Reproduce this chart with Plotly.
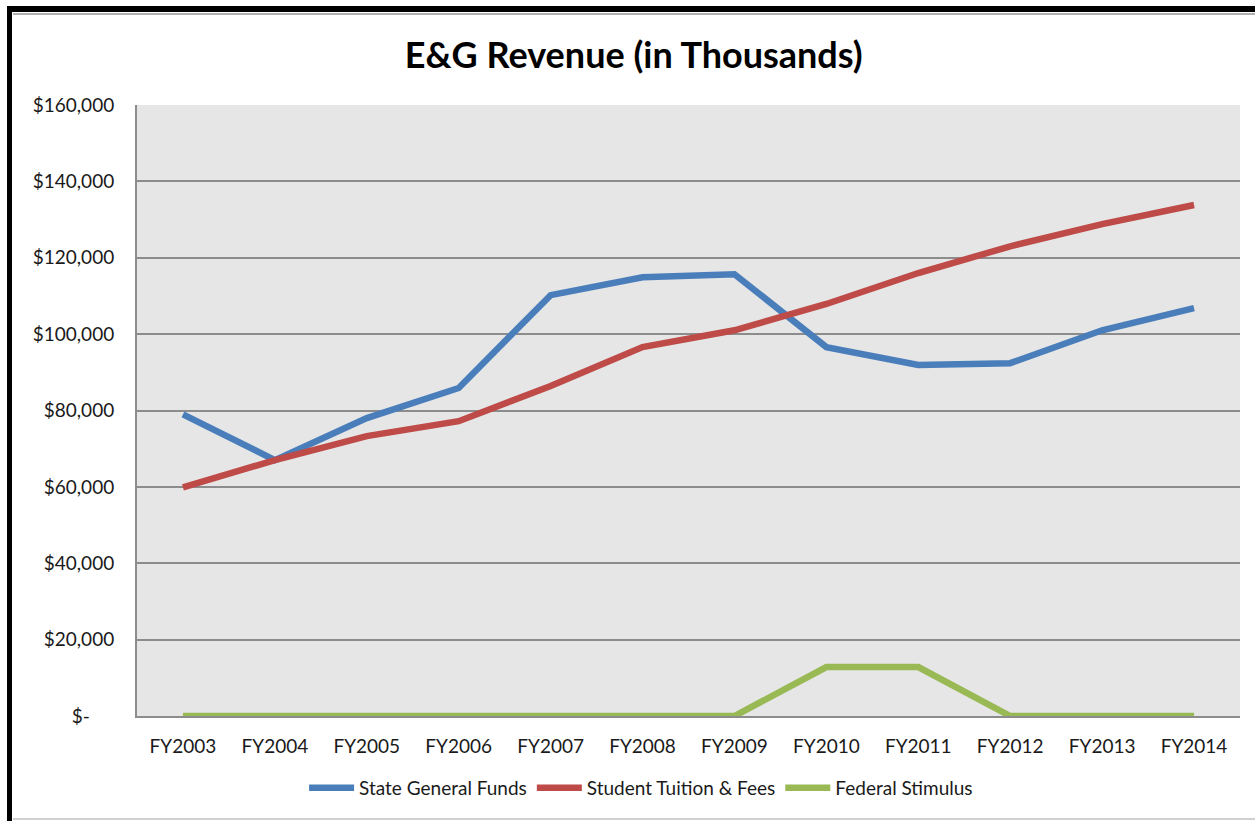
import plotly.graph_objects as go

years = ["FY2003", "FY2004", "FY2005", "FY2006", "FY2007", "FY2008",
         "FY2009", "FY2010", "FY2011", "FY2012", "FY2013", "FY2014"]
state_funds = [79000, 67000, 78000, 85900, 110200, 114900,
               115700, 96600, 91900, 92400, 101000, 106800]
tuition_fees = [59900, 67000, 73300, 77200, 86400, 96600,
                101000, 107900, 116000, 123000, 128800, 133800]
federal_stimulus = [0, 0, 0, 0, 0, 0, 0, 12800, 12800, 0, 0, 0]

y_ticks = [0, 20000, 40000, 60000, 80000, 100000, 120000, 140000, 160000]
y_labels = ["$-\u00a0\u00a0\u00a0\u00a0\u00a0"] + [f"${v:,}" for v in y_ticks[1:]]

W, H = 1255, 821
L, R, T, B = 137, 1240, 105, 716


def px_x(v):
    return (v - L) / (R - L)


def px_y(v):
    return (B - v) / (B - T)


fig = go.Figure()
series = [
    ("State General Funds", state_funds, "#4A7EBB"),
    ("Student Tuition & Fees", tuition_fees, "#BE4B48"),
    ("Federal Stimulus", federal_stimulus, "#98B954"),
]
for name, vals, color in series:
    fig.add_trace(go.Scatter(
        x=years, y=vals, mode="lines", name=name,
        line=dict(color=color, width=6.5),
    ))

# cadre noir (haut et gauche) + filets gris
shapes = [
    dict(type="rect", xref="paper", yref="paper",
         x0=px_x(7), x1=px_x(1258), y0=px_y(6), y1=px_y(12),
         fillcolor="black", line_width=0, layer="above"),
    dict(type="rect", xref="paper", yref="paper",
         x0=px_x(7), x1=px_x(12), y0=px_y(6), y1=px_y(830),
         fillcolor="black", line_width=0, layer="above"),
    dict(type="line", xref="paper", yref="paper",
         x0=px_x(13), x1=px_x(1258), y0=px_y(14), y1=px_y(14),
         line=dict(color="#B0B0B0", width=2)),
    dict(type="line", xref="paper", yref="paper",
         x0=px_x(13), x1=px_x(1258), y0=px_y(819), y1=px_y(819),
         line=dict(color="#D0D0D0", width=2)),
]

fig.update_layout(
    width=W, height=H,
    margin=dict(l=L, r=W - R, t=T, b=H - B),
    paper_bgcolor="white",
    plot_bgcolor="#E6E6E6",
    font=dict(family="Lato, Open Sans, sans-serif", color="#1a1a1a"),
    title=dict(text="<b>E&G Revenue (in Thousands)</b>", x=0.505, xanchor="center",
               y=1 - 55 / H, yanchor="middle",
               font=dict(size=36, family="Lato, Open Sans, sans-serif", color="black")),
    xaxis=dict(
        type="category", range=[-0.5, 11.5], showgrid=False,
        showline=True, linecolor="#8C8C8C", linewidth=2, mirror=False,
        ticks="", tickfont=dict(size=19), ticklabelstandoff=12,
        fixedrange=True,
    ),
    yaxis=dict(
        range=[0, 160000], tickvals=y_ticks, ticktext=y_labels,
        showgrid=True, gridcolor="#8C8C8C", gridwidth=1.5,
        showline=True, linecolor="#8C8C8C", linewidth=2,
        zeroline=False, ticks="", tickfont=dict(size=19),
        ticklabelstandoff=17,
    ),
    legend=dict(
        orientation="h", x=0.457, xanchor="center", y=-(788 - B) / (B - T),
        yanchor="middle", font=dict(size=19), itemwidth=45,
        bgcolor="rgba(0,0,0,0)", tracegroupgap=0,
    ),
    shapes=shapes,
    showlegend=True,
)

fig.write_html(
    "out.html",
    config={"displayModeBar": False},
    post_script="document.body.style.margin='0';"
                "document.body.style.overflow='hidden';"
                "document.documentElement.style.overflow='hidden';",
)
